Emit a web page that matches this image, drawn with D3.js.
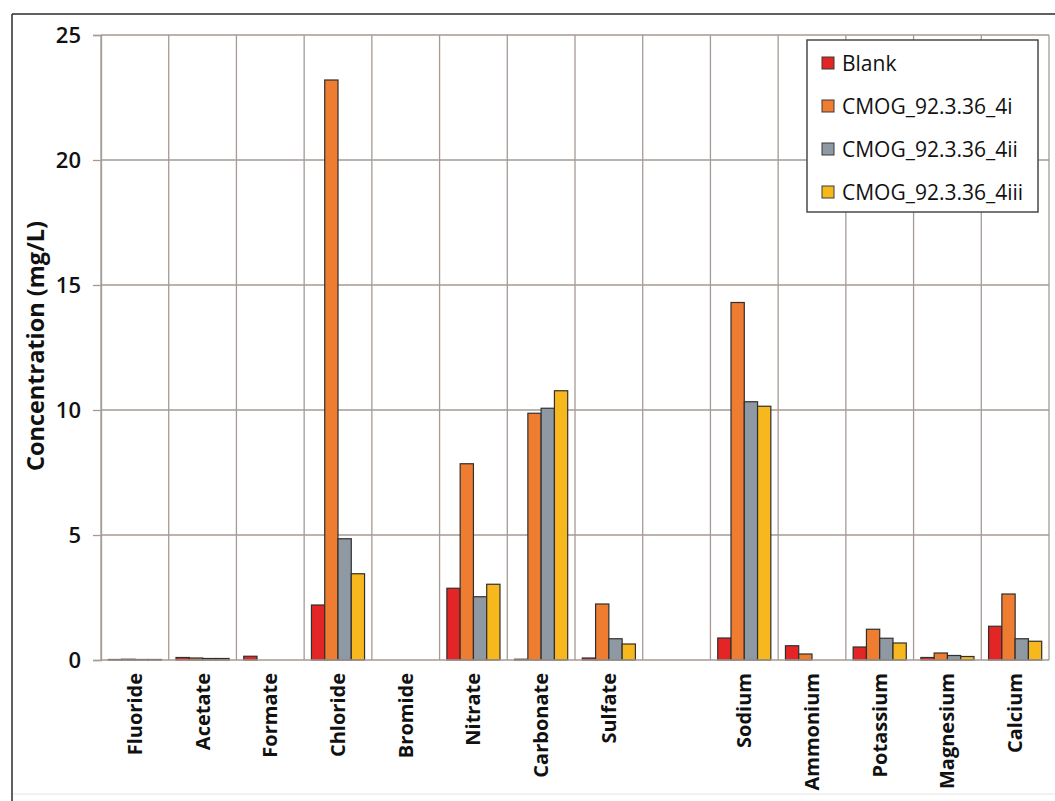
<!DOCTYPE html>
<html>
<head>
<meta charset="utf-8">
<script src="https://cdn.jsdelivr.net/npm/d3@7"></script>
<style>
  html, body { margin: 0; padding: 0; background: #fff; }
  svg { display: block; font-family: "Open Sans", "Noto Sans", sans-serif; }
</style>
</head>
<body>
<svg id="chart" width="1055" height="801"></svg>
<script>
// Ion concentrations (mg/L) per sample; the blank slot keeps anions and cations apart
const categories = ["Fluoride", "Acetate", "Formate", "Chloride", "Bromide", "Nitrate", "Carbonate", "Sulfate", "",
                    "Sodium", "Ammonium", "Potassium", "Magnesium", "Calcium"];
const seriesNames = ["Blank", "CMOG_92.3.36_4i", "CMOG_92.3.36_4ii", "CMOG_92.3.36_4iii"];
const blank   = [0.02, 0.10, 0.15, 2.20, 0, 2.87, 0.03, 0.08, 0, 0.88, 0.57, 0.52, 0.10, 1.35];
const cmog4i  = [0.03, 0.08, 0,    23.2, 0, 7.85, 9.87, 2.24, 0, 14.3, 0.24, 1.23, 0.28, 2.64];
const cmog4ii = [0.02, 0.06, 0,    4.85, 0, 2.53, 10.07, 0.85, 0, 10.33, 0, 0.87, 0.18, 0.85];
const cmog4iii= [0.02, 0.06, 0,    3.45, 0, 3.03, 10.77, 0.64, 0, 10.15, 0, 0.68, 0.14, 0.75];
const yTicks = [0, 5, 10, 15, 20, 25];
const colors = ["#e42526", "#ee7d31", "#8f99a3", "#f6b81c"];

const seriesValues = [blank, cmog4i, cmog4ii, cmog4iii];

const svg = d3.select("#chart");
const W = 1055, H = 801;
const margin = { top: 35, right: 6, bottom: 141, left: 101 };
const innerW = W - margin.left - margin.right;
const innerH = H - margin.top - margin.bottom;

// outer frame
svg.append("line").attr("x1", 12).attr("x2", W).attr("y1", 14).attr("y2", 14)
  .attr("stroke", "#2b2b2b").attr("stroke-width", 1.5);
svg.append("line").attr("x1", 12).attr("x2", 12).attr("y1", 14).attr("y2", H)
  .attr("stroke", "#2b2b2b").attr("stroke-width", 1.5);
svg.append("line").attr("x1", 13).attr("x2", W).attr("y1", 794).attr("y2", 794)
  .attr("stroke", "#e4e4e4").attr("stroke-width", 1);

const g = svg.append("g").attr("transform", `translate(${margin.left},${margin.top})`);

const x0 = d3.scaleBand().domain(d3.range(categories.length)).range([0, innerW]).paddingInner(0).paddingOuter(0);
const x1 = d3.scaleBand().domain(d3.range(seriesNames.length)).range([0, x0.bandwidth()]).paddingOuter(0.55).paddingInner(0);
const y = d3.scaleLinear().domain([0, 25]).range([innerH, 0]);

const gridColor = "#a69a94";

// horizontal gridlines
g.selectAll(".hgrid").data(yTicks.filter(d => d > 0)).join("line")
  .attr("x1", 0).attr("x2", innerW)
  .attr("y1", d => y(d)).attr("y2", d => y(d))
  .attr("stroke", gridColor).attr("stroke-width", 1.3);

// vertical gridlines at category boundaries
const bounds = d3.range(categories.length + 1).map(i => i === categories.length ? innerW : x0(i));
g.selectAll(".vgrid").data(bounds).join("line")
  .attr("x1", d => d).attr("x2", d => d)
  .attr("y1", 0).attr("y2", innerH)
  .attr("stroke", gridColor).attr("stroke-width", 1.3);

// y axis
const yAxis = g.append("g").call(d3.axisLeft(y).tickValues(yTicks).tickSize(8).tickPadding(12));
yAxis.select(".domain").attr("stroke", gridColor).attr("stroke-width", 1.3);
yAxis.selectAll(".tick line").attr("stroke", gridColor).attr("stroke-width", 1.3);
yAxis.selectAll(".tick text").attr("font-size", 22).attr("font-weight", 600)
  .attr("fill", "#111").attr("font-family", "'Open Sans', sans-serif");

// bars
const groups = g.selectAll(".cat").data(categories.map((c, i) => i)).join("g")
  .attr("transform", i => `translate(${x0(i)},0)`);
groups.selectAll("rect").data(i => seriesValues.map((s, k) => ({ k, v: s[i] })).filter(d => d.v > 0)).join("rect")
  .attr("x", d => x1(d.k))
  .attr("width", x1.bandwidth())
  .attr("y", d => y(d.v))
  .attr("height", d => innerH - y(d.v))
  .attr("fill", d => colors[d.k])
  .attr("stroke", "#2f2f2f").attr("stroke-width", 1.2);

// baseline
g.append("line").attr("x1", 0).attr("x2", innerW).attr("y1", innerH).attr("y2", innerH)
  .attr("stroke", gridColor).attr("stroke-width", 1.3);

// category labels, rotated
g.selectAll(".xlab").data(categories).join("text")
  .attr("transform", (d, i) => `translate(${x0(i) + x0.bandwidth() / 2 + 7},${innerH + 13}) rotate(-90)`)
  .attr("text-anchor", "end")
  .attr("font-size", 20).attr("font-weight", 700).attr("fill", "#111")
  .text(d => d);

// y axis title
svg.append("text")
  .attr("transform", "translate(44,346) rotate(-90)")
  .attr("text-anchor", "middle")
  .attr("font-size", 23.5).attr("font-weight", 700).attr("fill", "#111")
  .text("Concentration (mg/L)");

// legend
const lg = svg.append("g").attr("transform", "translate(807,40)");
lg.append("rect").attr("width", 231).attr("height", 172)
  .attr("fill", "#fff").attr("stroke", "#4a4a4a").attr("stroke-width", 1.5);
const rows = lg.selectAll(".row").data(seriesNames).join("g")
  .attr("transform", (d, i) => `translate(15,${23 + i * 43})`);
rows.append("rect").attr("x", 0).attr("y", -6).attr("width", 12).attr("height", 12)
  .attr("fill", (d, i) => colors[i]).attr("stroke", "#3a3a3a").attr("stroke-width", 1);
rows.append("text").attr("x", 20).attr("y", 0).attr("dy", "0.36em")
  .attr("font-size", 21).attr("fill", "#111")
  .text(d => d);
</script>
</body>
</html>
